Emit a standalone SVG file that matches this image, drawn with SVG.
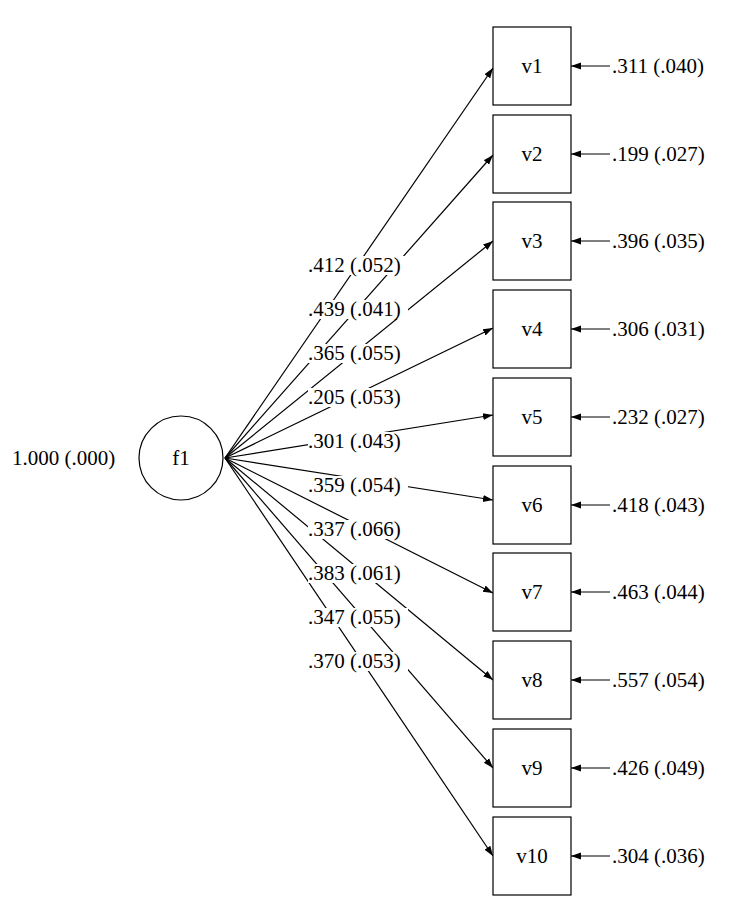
<svg xmlns="http://www.w3.org/2000/svg" width="744" height="916" viewBox="0 0 744 916">
<style>
text{font-family:"Liberation Serif",serif;font-size:21px;fill:#000}
.b{fill:#fff;stroke:#000;stroke-width:1.2}
.c line{stroke:#000;stroke-width:1.2;marker-end:url(#a)}
.lb{fill:#fff}
</style>
<defs><marker id="a" viewBox="0 0 10 10" refX="10" refY="5" markerWidth="10" markerHeight="10" markerUnits="userSpaceOnUse" orient="auto"><path d="M0,1.5L10,5L0,8.5z" fill="#000"/></marker></defs>
<rect width="744" height="916" fill="#fff"/>
<g id="f1"><circle class="b" cx="181" cy="458" r="42"/><text x="181" y="465" text-anchor="middle">f1</text><text x="12" y="465">1.000 (.000)</text></g>
<g class="c">
<line x1="225" y1="458" x2="493" y2="68"/>
<line x1="225" y1="458" x2="493" y2="155"/>
<line x1="225" y1="458" x2="493" y2="241"/>
<line x1="225" y1="458" x2="493" y2="328"/>
<line x1="225" y1="458" x2="493" y2="415"/>
<line x1="225" y1="458" x2="493" y2="500"/>
<line x1="225" y1="458" x2="493" y2="593"/>
<line x1="225" y1="458" x2="493" y2="680"/>
<line x1="225" y1="458" x2="493" y2="768"/>
<line x1="225" y1="458" x2="493" y2="856"/>
<line x1="610" y1="66" x2="571" y2="66"/>
<line x1="610" y1="154" x2="571" y2="154"/>
<line x1="610" y1="241" x2="571" y2="241"/>
<line x1="610" y1="329" x2="571" y2="329"/>
<line x1="610" y1="417" x2="571" y2="417"/>
<line x1="610" y1="505" x2="571" y2="505"/>
<line x1="610" y1="592" x2="571" y2="592"/>
<line x1="610" y1="680" x2="571" y2="680"/>
<line x1="610" y1="768" x2="571" y2="768"/>
<line x1="610" y1="856" x2="571" y2="856"/>
</g>
<g id="labels">
<rect class="lb" x="308" y="256" width="100" height="19"/><text x="308" y="272">.412 (.052)</text>
<rect class="lb" x="308" y="300" width="100" height="19"/><text x="308" y="316">.439 (.041)</text>
<rect class="lb" x="308" y="344" width="100" height="19"/><text x="308" y="360">.365 (.055)</text>
<rect class="lb" x="308" y="388" width="100" height="19"/><text x="308" y="404">.205 (.053)</text>
<rect class="lb" x="308" y="432" width="100" height="19"/><text x="308" y="448">.301 (.043)</text>
<rect class="lb" x="308" y="476" width="100" height="19"/><text x="308" y="492">.359 (.054)</text>
<rect class="lb" x="308" y="520" width="100" height="19"/><text x="308" y="536">.337 (.066)</text>
<rect class="lb" x="308" y="564" width="100" height="19"/><text x="308" y="580">.383 (.061)</text>
<rect class="lb" x="308" y="608" width="100" height="19"/><text x="308" y="624">.347 (.055)</text>
<rect class="lb" x="308" y="652" width="100" height="19"/><text x="308" y="668">.370 (.053)</text>
</g>
<g id="v1"><rect class="b" x="493" y="27" width="78" height="78"/><text x="532" y="73" text-anchor="middle">v1</text><text x="612" y="73">.311 (.040)</text></g>
<g id="v2"><rect class="b" x="493" y="115" width="78" height="78"/><text x="532" y="161" text-anchor="middle">v2</text><text x="612" y="161">.199 (.027)</text></g>
<g id="v3"><rect class="b" x="493" y="202" width="78" height="78"/><text x="532" y="248" text-anchor="middle">v3</text><text x="612" y="248">.396 (.035)</text></g>
<g id="v4"><rect class="b" x="493" y="290" width="78" height="78"/><text x="532" y="336" text-anchor="middle">v4</text><text x="612" y="336">.306 (.031)</text></g>
<g id="v5"><rect class="b" x="493" y="378" width="78" height="78"/><text x="532" y="424" text-anchor="middle">v5</text><text x="612" y="424">.232 (.027)</text></g>
<g id="v6"><rect class="b" x="493" y="466" width="78" height="78"/><text x="532" y="512" text-anchor="middle">v6</text><text x="612" y="512">.418 (.043)</text></g>
<g id="v7"><rect class="b" x="493" y="553" width="78" height="78"/><text x="532" y="599" text-anchor="middle">v7</text><text x="612" y="599">.463 (.044)</text></g>
<g id="v8"><rect class="b" x="493" y="641" width="78" height="78"/><text x="532" y="687" text-anchor="middle">v8</text><text x="612" y="687">.557 (.054)</text></g>
<g id="v9"><rect class="b" x="493" y="729" width="78" height="78"/><text x="532" y="775" text-anchor="middle">v9</text><text x="612" y="775">.426 (.049)</text></g>
<g id="v10"><rect class="b" x="493" y="817" width="78" height="78"/><text x="532" y="863" text-anchor="middle">v10</text><text x="612" y="863">.304 (.036)</text></g>
</svg>
